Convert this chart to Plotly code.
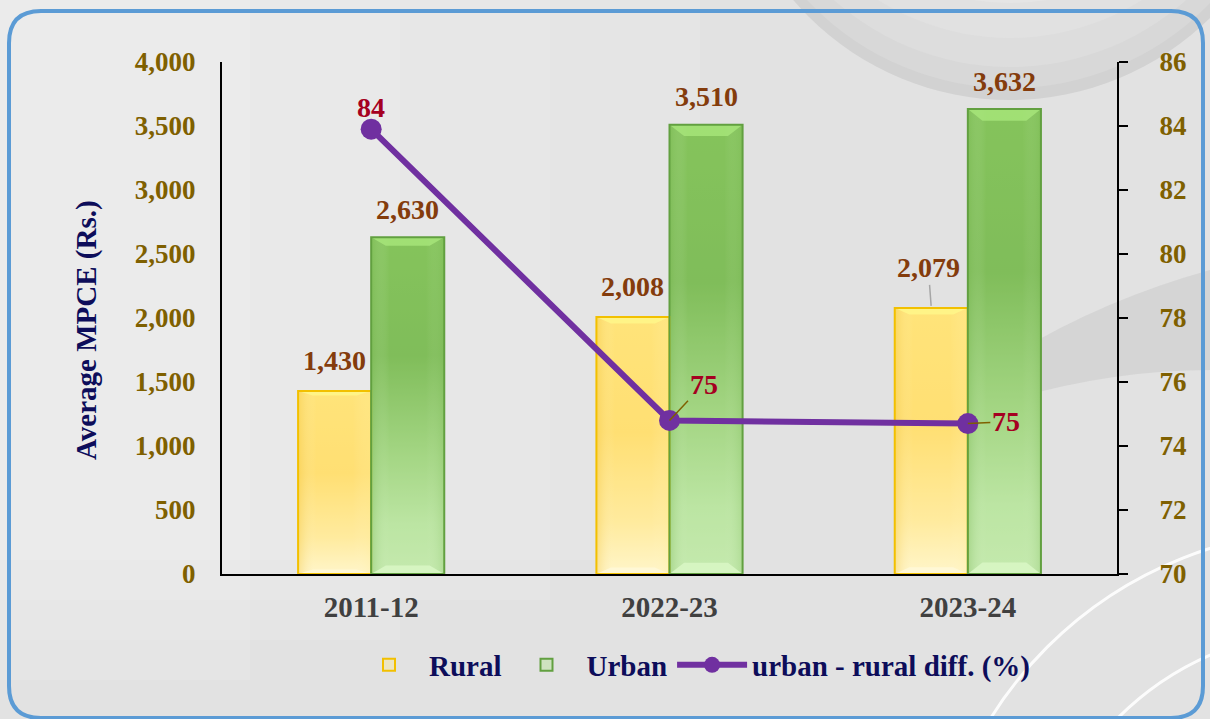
import base64
import plotly.graph_objects as go

categories = ["2011-12", "2022-23", "2023-24"]
rural = [1430, 2008, 2079]
urban = [2630, 3510, 3632]
diff_pct = [83.9, 74.8, 74.7]
diff_labels = ["84", "75", "75"]

W, H = 1210, 719
L, R, T, B = 222, 93, 62, 145
PW, PH = W - L - R, H - T - B
BARGAP = 0.51
BW = (1 - BARGAP) / 2


def px(x):
    return (x - L) / PW


def py(y):
    return (H - B - y) / PH


FONT = "Liberation Serif"
LBL = dict(family=FONT, size=28, color="#843C0C", weight="bold")
DLBL = dict(family=FONT, size=28, color="#A50021", weight="bold")


def grad_svg(stops, edge_left, edge_right, top_bevel, bottom_bevel):
    st = "".join(f'<stop offset="{o}" stop-color="{c}"/>' for o, c in stops)
    svg = (
        '<svg xmlns="http://www.w3.org/2000/svg" width="100" height="1000" preserveAspectRatio="none" '
        'viewBox="0 0 100 1000">'
        f'<defs><linearGradient id="g" x1="0" y1="0" x2="0" y2="1">{st}</linearGradient>'
        '<linearGradient id="h" x1="0" y1="0" x2="1" y2="0">'
        f'<stop offset="0" stop-color="{edge_left}" stop-opacity="0.35"/>'
        '<stop offset="0.25" stop-color="#ffffff" stop-opacity="0"/>'
        '<stop offset="0.75" stop-color="#ffffff" stop-opacity="0"/>'
        f'<stop offset="1" stop-color="{edge_right}" stop-opacity="0.25"/></linearGradient></defs>'
        '<rect x="0" y="0" width="100" height="1000" fill="url(#g)"/>'
        '<rect x="0" y="0" width="100" height="1000" fill="url(#h)"/>'
        f'<polygon points="0,0 100,0 80,25 20,25" fill="{top_bevel}" fill-opacity="0.8"/>'
        f'<polygon points="0,1000 100,1000 80,975 20,975" fill="{bottom_bevel}" fill-opacity="0.9"/>'
        '</svg>'
    )
    return "data:image/svg+xml;base64," + base64.b64encode(svg.encode()).decode()


RURAL_IMG = grad_svg([(0, "#FFE070"), (0.45, "#FFD966"), (0.8, "#FFEBA8"), (1, "#FFFBEA")],
                     "#E8A800", "#FFF0A0", "#FFFF8A", "#FFFFFF")
URBAN_IMG = grad_svg([(0, "#72B248"), (0.35, "#6AA845"), (0.65, "#A2CE86"), (0.85, "#C6E5B5"), (1, "#D3ECC6")],
                     "#5E9E3A", "#5E9E3A", "#A8E878", "#F2FFE8")

fig = go.Figure()

fig.add_trace(go.Bar(
    x=categories, y=rural, name="Rural",
    marker=dict(color="rgba(255,236,140,0.35)", line=dict(color="#F2C000", width=2)),
))
fig.add_trace(go.Bar(
    x=categories, y=urban, name="Urban",
    marker=dict(color="rgba(170,230,130,0.35)", line=dict(color="#62A040", width=2)),
))
fig.add_trace(go.Scatter(
    x=categories, y=diff_pct, name="urban - rural diff. (%)", yaxis="y2",
    mode="lines+markers",
    line=dict(color="#7030A0", width=6),
    marker=dict(color="#7030A0", size=21, line=dict(color="#7030A0", width=0)),
    cliponaxis=False,
))

annotations = []
for i, (rv, uv) in enumerate(zip(rural, urban)):
    if i == 2:
        annotations.append(dict(x=i - BW / 2, y=rv, xref="x", yref="y", text=f"{rv:,}", font=LBL,
                                showarrow=True, arrowhead=0, arrowwidth=1.5, arrowcolor="#A6A6A6",
                                ax=-3, ay=-40, standoff=2))
    else:
        annotations.append(dict(x=i - BW / 2, y=rv, xref="x", yref="y", text=f"{rv:,}", font=LBL,
                                showarrow=False, yanchor="middle", yshift=30))
    annotations.append(dict(x=i + BW / 2, y=uv, xref="x", yref="y", text=f"{uv:,}", font=LBL,
                            showarrow=False, yanchor="middle", yshift=28))
annotations.append(dict(x=0, y=diff_pct[0], xref="x", yref="y2", text=diff_labels[0], font=DLBL,
                        showarrow=False, yanchor="middle", yshift=22))
annotations.append(dict(x=1, y=diff_pct[1], xref="x", yref="y2", text=diff_labels[1], font=DLBL,
                        showarrow=True, arrowhead=0, arrowwidth=1.5, arrowcolor="#7F6000",
                        ax=34, ay=-36, standoff=0))
annotations.append(dict(x=2, y=diff_pct[2], xref="x", yref="y2", text=diff_labels[2], font=DLBL,
                        showarrow=True, arrowhead=0, arrowwidth=1.5, arrowcolor="#7F6000",
                        ax=38, ay=-2, standoff=0))
annotations.append(dict(x=px(86), y=py(330), xref="paper", yref="paper", text="Average MPCE (Rs.)",
                        textangle=-90, showarrow=False, xanchor="center", yanchor="middle",
                        font=dict(family=FONT, size=29, color="#0D0D5A", weight="bold")))

images = []
for i, (rv, uv) in enumerate(zip(rural, urban)):
    images.append(dict(source=RURAL_IMG, xref="x", yref="y", x=i - BW, y=rv, sizex=BW, sizey=rv,
                       xanchor="left", yanchor="top", sizing="stretch", layer="below"))
    images.append(dict(source=URBAN_IMG, xref="x", yref="y", x=i, y=uv, sizex=BW, sizey=uv,
                       xanchor="left", yanchor="top", sizing="stretch", layer="below"))

shapes = []
for i in range(4):
    shapes.append(dict(type="rect", xref="paper", yref="paper",
                       x0=px(0), x1=px(700 - 150 * i), y0=py(560 + 40 * i), y1=py(0),
                       fillcolor="rgba(255,255,255,0.10)", line=dict(width=0), layer="below"))
shapes.append(dict(type="circle", xref="paper", yref="paper",
                   x0=px(1010 - 285), x1=px(1010 + 285), y0=py(-185 - 285), y1=py(-185 + 285),
                   fillcolor="#D2D2D2", line=dict(width=0), layer="below"))
for k, (dy, rr_, col) in enumerate([(-190, 278, "#D8D8D8"), (-198, 265, "#DDDDDD"),
                                    (-210, 248, "#E1E1E1"), (-225, 228, "#E5E5E5")]):
    shapes.append(dict(type="circle", xref="paper", yref="paper",
                       x0=px(1010 - rr_), x1=px(1010 + rr_), y0=py(dy - rr_), y1=py(dy + rr_),
                       fillcolor=col, line=dict(width=0), layer="below"))
shapes.append(dict(type="path", xref="paper", yref="paper",
                   path=f"M {px(1210)},{py(270)} Q {px(1030)},{py(320)} {px(900)},{py(440)} "
                        f"Q {px(1060)},{py(370)} {px(1210)},{py(370)} Z",
                   fillcolor="rgba(190,190,190,0.35)", line=dict(width=0), layer="below"))
for r in (300, 400):
    shapes.append(dict(type="circle", xref="paper", yref="paper",
                       x0=px(1330 - r), x1=px(1330 + r), y0=py(930 - r), y1=py(930 + r),
                       fillcolor="rgba(0,0,0,0)", line=dict(color="rgba(255,255,255,0.9)", width=3),
                       layer="below"))
x0b, y0b, x1b, y1b, rr = 9, 11, 1203, 718, 32
border = (f"M {px(x0b + rr)},{py(y0b)} L {px(x1b - rr)},{py(y0b)} "
          f"Q {px(x1b)},{py(y0b)} {px(x1b)},{py(y0b + rr)} "
          f"L {px(x1b)},{py(y1b - rr)} Q {px(x1b)},{py(y1b)} {px(x1b - rr)},{py(y1b)} "
          f"L {px(x0b + rr)},{py(y1b)} Q {px(x0b)},{py(y1b)} {px(x0b)},{py(y1b - rr)} "
          f"L {px(x0b)},{py(y0b + rr)} Q {px(x0b)},{py(y0b)} {px(x0b + rr)},{py(y0b)} Z")
shapes.append(dict(type="path", xref="paper", yref="paper", path=border,
                   line=dict(color="#5B9BD5", width=4), fillcolor="rgba(0,0,0,0)", layer="above"))

fig.update_layout(
    width=W, height=H,
    margin=dict(l=L, r=R, t=T, b=B, autoexpand=False),
    paper_bgcolor="#E2E2E2", plot_bgcolor="rgba(0,0,0,0)",
    barmode="group", bargap=BARGAP, bargroupgap=0,
    font=dict(family=FONT, color="#404040", weight="bold"),
    xaxis=dict(type="category", showline=True, linecolor="black", linewidth=2, showgrid=False,
               ticks="", tickfont=dict(family=FONT, size=29, color="#404040", weight="bold"),
               ticklabelstandoff=6, range=[-0.5, 2.5]),
    yaxis=dict(range=[0, 4000], dtick=500, tickformat=",", showgrid=False, zeroline=False,
               showline=True, linecolor="black", linewidth=2, ticks="",
               tickfont=dict(family=FONT, size=27, color="#7F6000", weight="bold"),
               ticklabelstandoff=19),
    yaxis2=dict(range=[70, 86], dtick=2, overlaying="y", side="right", showgrid=False,
                zeroline=False, showline=True, linecolor="black", linewidth=2,
                ticks="outside", ticklen=9, tickcolor="black", tickwidth=2,
                ticklabelstandoff=26,
                tickfont=dict(family=FONT, size=27, color="#7F6000", weight="bold")),
    legend=dict(orientation="h", x=px(692), xanchor="center", y=py(665), yanchor="middle",
                font=dict(family=FONT, size=29, color="#0D0D5A", weight="bold"),
                bgcolor="rgba(0,0,0,0)", itemwidth=70, traceorder="normal"),
    showlegend=True,
    shapes=shapes,
    images=images,
    annotations=annotations,
)

fig.write_html("out.html", config={"displayModeBar": False},
               post_script="document.body.style.margin='0';document.body.style.background='#E2E2E2';")
